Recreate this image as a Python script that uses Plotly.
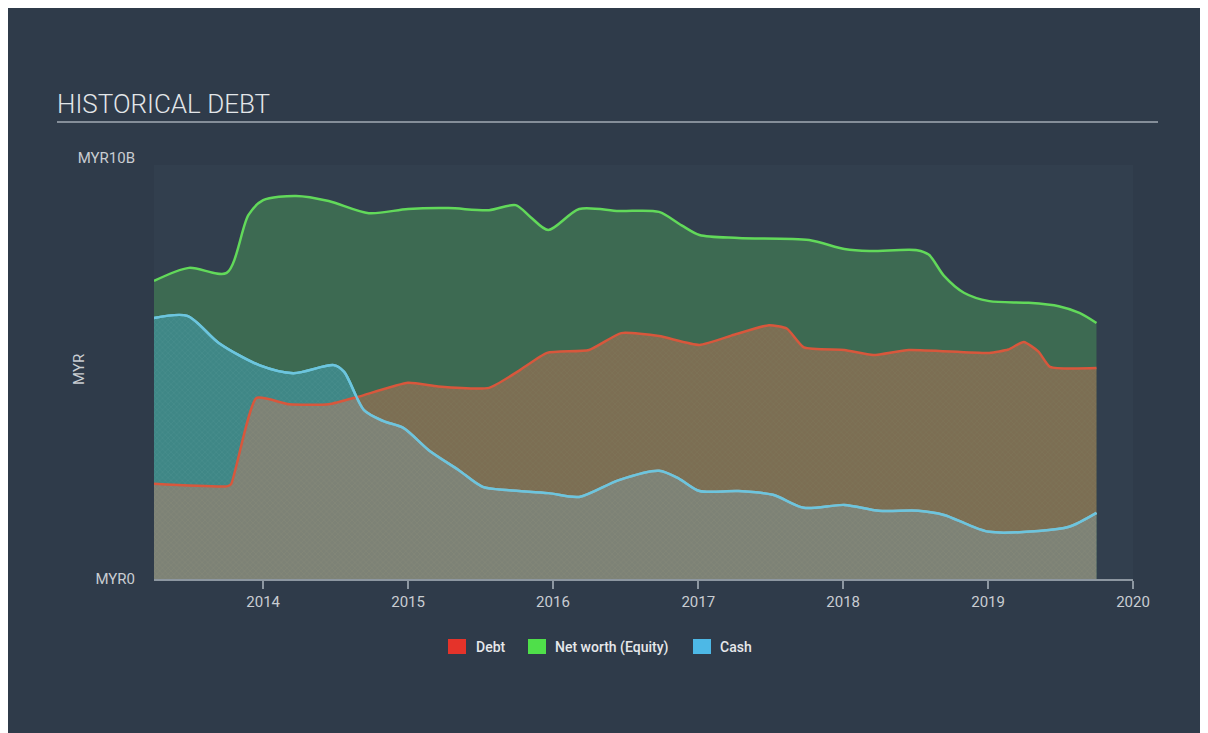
import plotly.graph_objects as go

# ---------------- data (MYR billions) ----------------
equity_dates = ["2013-04-01", "2013-06-28", "2013-10-01", "2013-11-25", "2014-01-01",
                "2014-03-25", "2014-06-15", "2014-09-24", "2015-01-01", "2015-04-13",
                "2015-07-24", "2015-09-29", "2015-11-05", "2015-12-20", "2016-03-07",
                "2016-06-15", "2016-09-24", "2016-11-20", "2017-01-04", "2017-04-12",
                "2017-10-07", "2018-01-04", "2018-03-08", "2018-07-06", "2018-08-05",
                "2018-09-12", "2018-11-01", "2019-01-04", "2019-04-13", "2019-06-28",
                "2019-08-19", "2019-10-01"]
equity_values = [7.08, 7.39, 7.27, 8.65, 9.00,
                 9.10, 8.98, 8.69, 8.79, 8.81,
                 8.76, 8.88, 8.60, 8.29, 8.79,
                 8.74, 8.72, 8.40, 8.17, 8.10,
                 8.05, 7.84, 7.79, 7.81, 7.70,
                 7.20, 6.80, 6.60, 6.56, 6.48,
                 6.32, 6.08]

debt_dates = ["2013-04-01", "2013-10-01", "2013-10-12", "2013-12-15", "2014-03-07",
              "2014-06-15", "2014-08-29", "2015-01-01", "2015-03-18", "2015-07-24",
              "2015-10-08", "2015-12-17", "2016-04-01", "2016-06-21", "2016-09-24",
              "2017-01-04", "2017-04-01", "2017-06-28", "2017-08-12", "2017-09-24",
              "2018-01-04", "2018-03-18", "2018-06-15", "2019-01-04", "2019-02-21",
              "2019-04-01", "2019-05-08", "2019-06-06", "2019-10-01"]
debt_values = [2.26, 2.20, 2.25, 4.30, 4.15,
               4.15, 4.33, 4.66, 4.57, 4.54,
               4.95, 5.37, 5.44, 5.84, 5.77,
               5.56, 5.80, 6.03, 5.95, 5.50,
               5.44, 5.32, 5.44, 5.37, 5.45,
               5.63, 5.40, 5.04, 5.01]

cash_dates = ["2013-04-01", "2013-06-24", "2013-09-12", "2013-12-22", "2014-03-18",
              "2014-06-28", "2014-07-24", "2014-09-12", "2014-10-31", "2014-12-20",
              "2015-02-22", "2015-05-08", "2015-07-08", "2015-09-12", "2015-12-20",
              "2016-03-07", "2016-06-15", "2016-09-24", "2016-11-14", "2017-01-04",
              "2017-04-12", "2017-07-08", "2017-09-24", "2018-01-04", "2018-04-01",
              "2018-07-09", "2018-09-12", "2018-11-14", "2019-01-04", "2019-05-08",
              "2019-07-24", "2019-10-01"]
cash_values = [6.20, 6.25, 5.60, 5.08, 4.89,
               5.08, 4.92, 4.01, 3.75, 3.59,
               3.06, 2.59, 2.19, 2.11, 2.04,
               1.95, 2.35, 2.57, 2.38, 2.09,
               2.09, 2.00, 1.69, 1.76, 1.62,
               1.62, 1.52, 1.28, 1.12, 1.14,
               1.24, 1.57]

year_ticks = ["2014-01-01", "2015-01-01", "2016-01-01", "2017-01-01",
              "2018-01-01", "2019-01-01", "2020-01-01"]
year_labels = ["2014", "2015", "2016", "2017", "2018", "2019", "2020"]
y_tick_vals = [0, 10]
y_tick_text = ["MYR0", "MYR10B"]

legend_names = ["Debt", "Net worth (Equity)", "Cash"]
legend_colors = ["#e5332a", "#4fdf4a", "#4db8e6"]

# ---------------- layout geometry (window pixels, page has 8px body margin) ----------------
OFF = 8
W, H = 1208, 733
PLOT_L, PLOT_R, PLOT_T, PLOT_B = 154, 1133, 158, 579       # in window pixels
L, R = PLOT_L - OFF, W - (PLOT_R - OFF)
T, B = PLOT_T - OFF, H - (PLOT_B - OFF)
PW, PH = PLOT_R - PLOT_L, PLOT_B - PLOT_T


def px_x(p):
    return (p - PLOT_L) / PW


def px_y(p):
    return (PLOT_B - p) / PH


BG = "#2f3b4a"
EQ_LINE, DEBT_LINE, CASH_LINE = "#62d95a", "#d8573c", "#6cc5de"
LABEL = "#c9cdd2"

fig = go.Figure()

fig.add_trace(go.Scatter(
    x=equity_dates, y=equity_values, name="Net worth (Equity)",
    mode="lines", line=dict(color=EQ_LINE, width=2.5, shape="spline", smoothing=0.8),
    fill="tozeroy", fillcolor="rgba(72,150,86,0.5)", showlegend=False, hoverinfo="skip"))

fig.add_trace(go.Scatter(
    x=cash_dates, y=cash_values, name="Cash",
    mode="lines", line=dict(color=CASH_LINE, width=2.5, shape="spline", smoothing=0.8),
    fill="tozeroy", fillcolor="rgba(64,158,176,0.55)",
    fillpattern=dict(shape="x", size=4, solidity=0.25, fillmode="replace",
                     bgcolor="rgba(64,158,176,0.55)", fgcolor="rgba(110,170,165,0.25)"),
    showlegend=False, hoverinfo="skip"))

fig.add_trace(go.Scatter(
    x=debt_dates, y=debt_values, name="Debt",
    mode="lines", line=dict(color=DEBT_LINE, width=2.5, shape="spline", smoothing=0.5),
    fill="tozeroy", fillcolor="rgba(250,118,86,0.33)",
    fillpattern=dict(shape="x", size=4, solidity=0.25, fillmode="replace",
                     bgcolor="rgba(250,118,86,0.33)", fgcolor="rgba(130,140,110,0.22)"),
    showlegend=False, hoverinfo="skip"))

# cash line drawn again on top so it stays visible over the debt fill
fig.add_trace(go.Scatter(
    x=cash_dates, y=cash_values, name="Cash",
    mode="lines", line=dict(color=CASH_LINE, width=2.5, shape="spline", smoothing=0.8),
    showlegend=False, hoverinfo="skip"))

shapes = [
    # plot area tint
    dict(type="rect", xref="paper", yref="paper", layer="below",
         x0=0, x1=1, y0=0, y1=px_y(165),
         fillcolor="#323f4e", line=dict(width=0)),
    # title underline
    dict(type="line", xref="paper", yref="paper",
         x0=px_x(57), x1=px_x(1158), y0=px_y(122), y1=px_y(122),
         line=dict(color="#a3abb4", width=1.5)),
]

annotations = [
    dict(text="HISTORICAL DEBT", xref="paper", yref="paper", x=px_x(55), y=px_y(104),
         xanchor="left", yanchor="middle", showarrow=False,
         font=dict(family="Roboto", size=26, color="#e3e6e9", weight=300)),
    dict(text="MYR", xref="paper", yref="paper", x=px_x(79), y=px_y(370),
         xanchor="center", yanchor="middle", showarrow=False, textangle=-90,
         font=dict(family="Roboto", size=15, color=LABEL)),
]

# manual legend (squares + labels)
legend_sq_x = [448, 528, 693]
legend_tx_x = [474, 553, 718]
for name, col, sx, tx in zip(legend_names, legend_colors, legend_sq_x, legend_tx_x):
    shapes.append(dict(type="rect", xref="paper", yref="paper",
                       x0=px_x(sx), x1=px_x(sx + 18), y0=px_y(654), y1=px_y(639),
                       fillcolor=col, line=dict(width=0)))
    annotations.append(dict(text=name, xref="paper", yref="paper", x=px_x(tx), y=px_y(647),
                            xanchor="left", yanchor="middle", showarrow=False,
                            font=dict(family="Roboto", size=14, color="#e6e8eb", weight=500)))

fig.update_layout(
    width=W, height=H,
    margin=dict(l=L, r=R, t=T, b=B, pad=0),
    paper_bgcolor=BG,
    plot_bgcolor="rgba(0,0,0,0)",
    font=dict(family="Roboto", color=LABEL, size=12),
    shapes=shapes,
    annotations=annotations,
    showlegend=False,
    xaxis=dict(type="date", range=["2013-04-01", "2020-01-01"],
               tickvals=year_ticks, ticktext=year_labels,
               showgrid=False, zeroline=False,
               showline=True, linecolor="#8d97a1", linewidth=1.5,
               ticks="outside", ticklen=8, tickwidth=1.5, tickcolor="#8d97a1",
               tickfont=dict(family="Roboto", size=15, color=LABEL),
               fixedrange=True),
    yaxis=dict(range=[0, 10], tickvals=y_tick_vals, ticktext=y_tick_text,
               showgrid=False, zeroline=False, showline=False, ticks="",
               ticklabelstandoff=18,
               tickfont=dict(family="Roboto", size=15, color=LABEL),
               fixedrange=True),
)

fig.write_html("out.html")
